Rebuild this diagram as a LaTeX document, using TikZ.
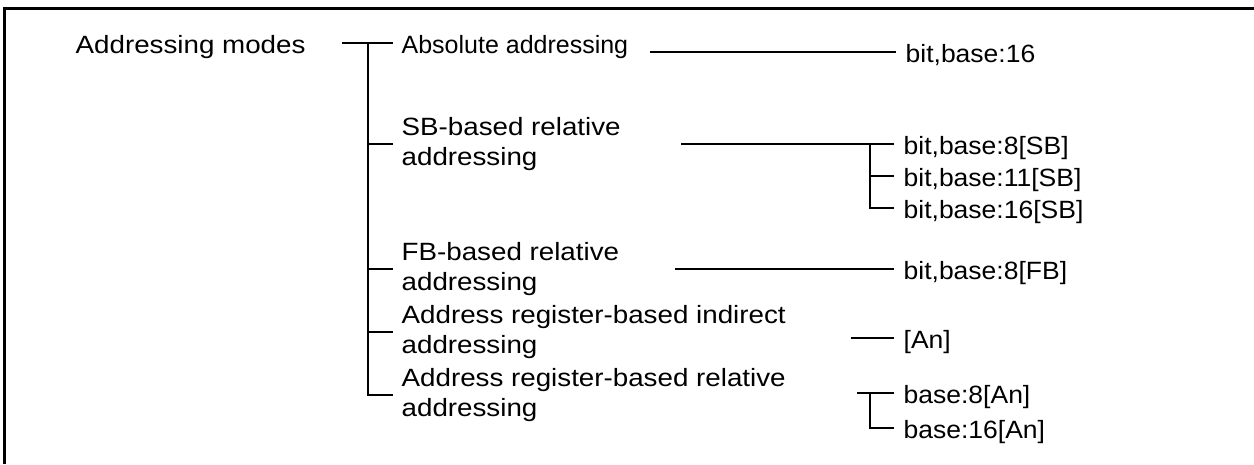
\documentclass[tikz,border=0pt]{standalone}
\usepackage{fontspec}
\setmainfont{Liberation Sans}[FakeStretch=1.06]
\newfontfamily\widefont{Liberation Sans}[FakeStretch=1.11]
\newfontfamily\narrowfont{Liberation Sans}
\usepackage{tikz}
\tikzstyle{mode} = [anchor=west,inner xsep=8pt,inner ysep=0pt,align=left,font=\fontsize{25}{30}\widefont]
\tikzstyle{single} = [anchor=west,inner xsep=8pt,inner ysep=0pt,text height=21pt,text depth=0pt]
\tikzstyle{val} = [anchor=west,inner xsep=9pt,inner ysep=0pt,text height=21pt,text depth=0pt]

\begin{document}
\begin{tikzpicture}[x=1pt,y=-1pt,line width=1.3pt,font=\fontsize{25}{30}\selectfont]
    \useasboundingbox (0,0) rectangle (1254,464);
    % frame (only top and left edges)
    \draw [line width=3pt] (4,464) -- (4,8.3) -- (1254,8.3);

    % We start by placing the modes
    \node [single,inner xsep=0pt,font=\fontsize{25}{30}\widefont] (root) at (75,43) {Addressing modes};
    \node [single,font=\fontsize{25}{30}\narrowfont] (abs) at (393,43) {Absolute addressing};
    \node [mode] (sb) at (393,144) {SB-based relative\\addressing};
    \node [mode] (fb) at (393,269) {FB-based relative\\addressing};
    \node [mode] (ind) at (393,332) {Address register-based indirect\\addressing};
    \node [mode] (rel) at (393,395) {Address register-based relative\\addressing};

    % then the formats
    \node [val] (b16) at (896,52) {bit,base:16};
    \node [val] (sb8) at (894,144) {bit,base:8[SB]};
    \node [val] (sb11) at (894,176) {bit,base:11[SB]};
    \node [val] (sb16) at (894,208) {bit,base:16[SB]};
    \node [val] (fb8) at (894,269) {bit,base:8[FB]};
    \node [val] (an) at (894,338) {[An]};
    \node [val] (an8) at (894,393) {base:8[An]};
    \node [val] (an16) at (894,428) {base:16[An]};

    % junctions and line starts
    \coordinate (rootst) at (342,43);
    \coordinate (bar) at (368,43);
    \coordinate (absst) at (650,52);
    \coordinate (sbst) at (681,144);
    \coordinate (sbj) at (870,144);
    \coordinate (fbst) at (675,269);
    \coordinate (indst) at (851,338);
    \coordinate (relst) at (857,393);
    \coordinate (relj) at (870,393);

    % Once the nodes are placed, connecting them is easy.
    \draw (rootst) -- (abs.west);
    \draw (bar) |- (rel.west);
    \foreach \m in {sb,fb,ind}
        \draw (bar |- \m.west) -- (\m.west);

    \draw (absst) -- (b16.west);
    \draw (sbst) -- (sb8.west);
    \draw (sbj) |- (sb16.west);
    \draw (sbj |- sb11.west) -- (sb11.west);
    \draw (fbst) -- (fb8.west);
    \draw (indst) -- (an.west);
    \draw (relst) -- (an8.west);
    \draw (relj) |- (an16.west);
\end{tikzpicture}
\end{document}
